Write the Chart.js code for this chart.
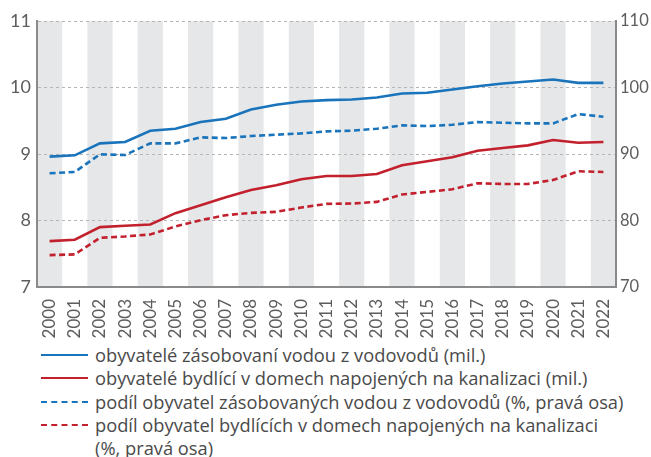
<!DOCTYPE html>
<html>
<head>
<meta charset="utf-8">
<script src="https://cdn.jsdelivr.net/npm/chart.js@4/dist/chart.umd.min.js"></script>
<style>
  html, body { margin: 0; padding: 0; background: #fff; }
  #wrap { position: relative; width: 651px; height: 340px; }
  #legend { position: absolute; left: 0; top: 343px; width: 651px; font-family: "Open Sans", Lato, sans-serif; font-size: 18.3px; color: #4a4a4a; }
  .item { position: relative; padding-left: 95px; line-height: 23.3px; white-space: nowrap; }
  .sample { position: absolute; left: 41px; top: 11px; width: 47px; height: 0; }
</style>
</head>
<body>
<div id="wrap"><canvas id="c" width="651" height="340"></canvas></div>
<div id="legend"></div>
<script>
const years = ["2000","2001","2002","2003","2004","2005","2006","2007","2008","2009","2010","2011","2012","2013","2014","2015","2016","2017","2018","2019","2020","2021","2022"];
const waterMil = [8.96,8.98,9.16,9.18,9.35,9.38,9.48,9.53,9.67,9.74,9.79,9.81,9.82,9.85,9.91,9.92,9.97,10.02,10.06,10.09,10.12,10.07,10.07];
const sewerMil = [7.69,7.71,7.90,7.92,7.94,8.11,8.23,8.35,8.46,8.53,8.62,8.67,8.67,8.70,8.83,8.89,8.95,9.05,9.09,9.13,9.21,9.17,9.18];
const waterPct = [87.1,87.3,89.95,89.85,91.6,91.6,92.5,92.4,92.7,92.9,93.1,93.4,93.5,93.8,94.3,94.2,94.4,94.8,94.7,94.6,94.6,96.0,95.6];
const sewerPct = [74.8,74.9,77.4,77.6,77.9,79.1,80.05,80.8,81.15,81.3,81.95,82.5,82.55,82.8,83.9,84.3,84.7,85.6,85.5,85.5,86.1,87.4,87.3];
const labels = [
  "obyvatelé zásobovaní vodou z vodovodů (mil.)",
  "obyvatelé bydlící v domech napojených na kanalizaci (mil.)",
  "podíl obyvatel zásobovaných vodou z vodovodů (%, pravá osa)",
  "podíl obyvatel bydlících v domech napojených na kanalizaci<br>(%, pravá osa)"
];
const leftTicks = [7, 8, 9, 10, 11];
const rightTicks = [70, 80, 90, 100, 110];

const BLUE = "#1a74bb";
const RED = "#c3202e";
const TICK = "#5d5d5d";
const FONT = "Lato, 'Open Sans', sans-serif";

const stripes = {
  id: "stripes",
  beforeDraw(chart) {
    const {ctx, chartArea, scales} = chart;
    const x = scales.x;
    const w = x.getPixelForValue(1) - x.getPixelForValue(0);
    ctx.save();
    ctx.fillStyle = "#e6e7e8";
    for (let i = 0; i < years.length; i += 2) {
      const cx = x.getPixelForValue(i);
      ctx.fillRect(cx - w / 2, chartArea.top, w, chartArea.bottom - chartArea.top);
    }
    ctx.restore();
  }
};

const ds = (label, data, color, axis, dashed) => ({
  label, data, borderColor: color, backgroundColor: color, yAxisID: axis,
  borderWidth: 2.6, pointRadius: 0, tension: 0, fill: false,
  borderDash: dashed ? [6, 3.5] : []
});

new Chart(document.getElementById("c"), {
  type: "line",
  data: {
    labels: years,
    datasets: [
      ds(labels[0], waterMil, BLUE, "y", false),
      ds(labels[1], sewerMil, RED, "y", false),
      ds(labels[2], waterPct, BLUE, "y1", true),
      ds(labels[3], sewerPct, RED, "y1", true)
    ]
  },
  options: {
    responsive: false,
    animation: false,
    layout: { padding: { top: 21, right: 0, left: 0, bottom: 0 } },
    plugins: { legend: { display: false }, tooltip: { enabled: false } },
    scales: {
      x: {
        offset: true,
        grid: { display: false },
        border: { color: "#8a8a8a", width: 2 },
        ticks: { color: TICK, font: { family: FONT, size: 17 }, minRotation: 90, maxRotation: 90, padding: 4, autoSkip: false },
        afterFit(s) { s.height = 53; }
      },
      y: {
        position: "left",
        min: 7, max: 11,
        afterBuildTicks(s) { s.ticks = leftTicks.map(v => ({ value: v })); },
        grid: { color: "#b5b5b5", lineWidth: 1, drawTicks: false },
        border: { color: "#8a8a8a", width: 2, dash: [3, 3] },
        ticks: { color: TICK, font: { family: FONT, size: 18 }, padding: 6 },
        afterFit(s) { s.width = 37; }
      },
      y1: {
        position: "right",
        min: 70, max: 110,
        afterBuildTicks(s) { s.ticks = rightTicks.map(v => ({ value: v })); },
        grid: { display: false, drawTicks: false },
        border: { color: "#8a8a8a", width: 2 },
        ticks: { color: TICK, font: { family: FONT, size: 16.5 }, padding: 4 },
        afterFit(s) { s.width = 35; }
      }
    }
  },
  plugins: [stripes]
});

const leg = document.getElementById("legend");
const styles = [
  "border-top: 2.6px solid " + BLUE,
  "border-top: 2.6px solid " + RED,
  "border-top: 2.6px dashed " + BLUE,
  "border-top: 2.6px dashed " + RED
];
labels.forEach((t, i) => {
  const d = document.createElement("div");
  d.className = "item";
  d.innerHTML = '<span class="sample" style="' + styles[i] + '"></span>' + t;
  leg.appendChild(d);
});
</script>
</body>
</html>
